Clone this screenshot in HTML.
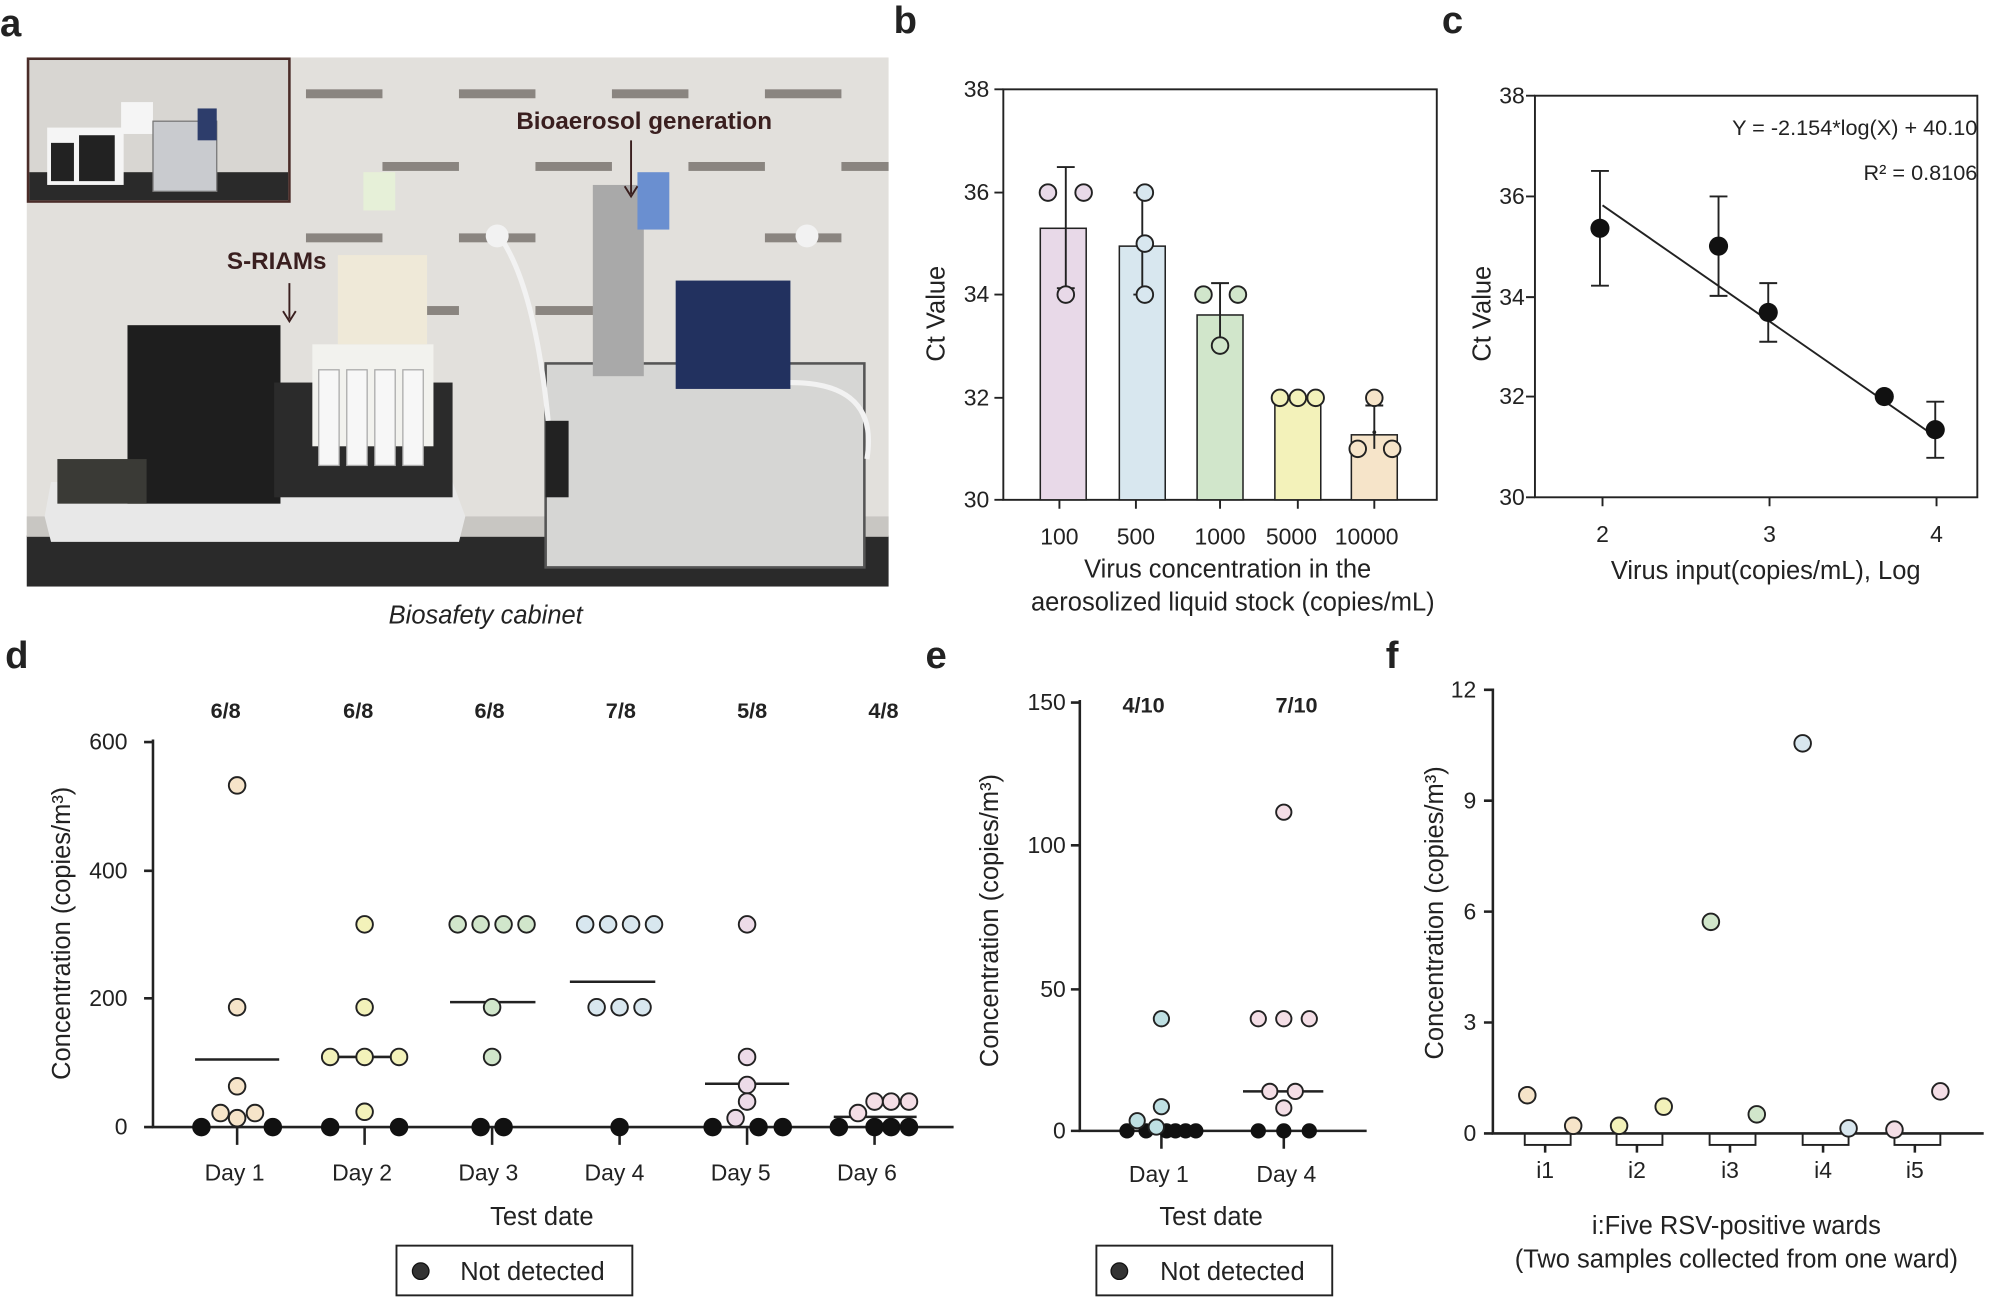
<!DOCTYPE html>
<html><head><meta charset="utf-8"><style>
html,body{margin:0;padding:0;background:#fff}
svg{display:block}
text{font-family:"Liberation Sans",Arial,sans-serif;fill:#222}
</style></head><body>
<svg width="1999" height="1298" viewBox="0 0 1568 1018" xmlns="http://www.w3.org/2000/svg">
<g font-weight="bold" font-size="30">
<text x="0" y="28">a</text><text x="701" y="26">b</text><text x="1131" y="26">c</text>
<text x="4" y="524">d</text><text x="726" y="524">e</text><text x="1087" y="524">f</text>
</g>

<!-- Panel a photo approximation -->
<rect x="21" y="45" width="676" height="415" fill="#e2e0dc"/>
<g fill="#8a8580">
<rect x="240" y="70" width="60" height="7"/><rect x="360" y="70" width="60" height="7"/><rect x="480" y="70" width="60" height="7"/><rect x="600" y="70" width="60" height="7"/>
<rect x="300" y="127" width="60" height="7"/><rect x="420" y="127" width="60" height="7"/><rect x="540" y="127" width="60" height="7"/><rect x="660" y="127" width="37" height="7"/>
<rect x="240" y="183" width="60" height="7"/><rect x="360" y="183" width="60" height="7"/><rect x="600" y="183" width="60" height="7"/>
<rect x="300" y="240" width="60" height="7"/><rect x="420" y="240" width="60" height="7"/><rect x="540" y="240" width="60" height="7"/>
<rect x="100" y="315" width="60" height="7"/><rect x="240" y="315" width="60" height="7"/>
<rect x="130" y="370" width="60" height="7"/>
</g>
<rect x="21" y="420" width="676" height="40" fill="#2a2a2a"/>
<rect x="21" y="405" width="676" height="16" fill="#c8c6c2"/>
<path d="M35 405 L40 378 L355 378 L365 405 L360 425 L40 425 Z" fill="#e8e8e8"/>
<rect x="100" y="255" width="120" height="140" fill="#1e1e1e"/>
<rect x="215" y="300" width="140" height="90" fill="#2b2b2b"/>
<rect x="245" y="270" width="95" height="80" fill="#f2f2ee"/>
<rect x="250" y="290" width="16" height="75" fill="#f7f7f7" stroke="#aaa"/><rect x="272" y="290" width="16" height="75" fill="#f7f7f7" stroke="#aaa"/><rect x="294" y="290" width="16" height="75" fill="#f7f7f7" stroke="#aaa"/><rect x="316" y="290" width="16" height="75" fill="#f7f7f7" stroke="#aaa"/>
<rect x="265" y="200" width="70" height="70" fill="#efe9d8"/>
<rect x="285" y="135" width="25" height="30" fill="#e6f0d8"/>
<rect x="45" y="360" width="70" height="35" fill="#3a3a36"/>
<rect x="428" y="285" width="250" height="160" fill="#d6d6d4" stroke="#555" stroke-width="2"/>
<rect x="428" y="330" width="18" height="60" fill="#222"/>
<rect x="530" y="220" width="90" height="85" fill="#22315f"/>
<rect x="465" y="145" width="40" height="150" fill="#a9a9a9"/>
<rect x="500" y="135" width="25" height="45" fill="#6a8fd0"/>
<path d="M395 190 Q420 230 430 330" stroke="#f2f2f2" stroke-width="4" fill="none"/>
<path d="M620 300 Q690 300 680 360" stroke="#f2f2f2" stroke-width="4" fill="none"/>
<circle cx="390" cy="185" r="9" fill="#f2f2f2"/><circle cx="633" cy="185" r="9" fill="#f2f2f2"/>
<rect x="22" y="46" width="205" height="112" fill="#d8d6d2" stroke="#4a2c28" stroke-width="2"/>
<rect x="23" y="135" width="203" height="22" fill="#2a2a2a"/>
<rect x="37" y="100" width="60" height="45" fill="#f5f5f5"/><rect x="40" y="112" width="18" height="30" fill="#222"/><rect x="62" y="106" width="28" height="36" fill="#222"/>
<rect x="95" y="80" width="25" height="25" fill="#f5f5f5"/>
<rect x="120" y="95" width="50" height="55" fill="#c9cbcf" stroke="#777"/>
<rect x="155" y="85" width="15" height="25" fill="#2d3d6b"/>
<g font-weight="bold" font-size="19">
<text x="405" y="101" style="fill:#3a1f1f">Bioaerosol generation</text>
<text x="178" y="211" style="fill:#3a1f1f">S-RIAMs</text>
</g>
<path d="M495 110 V152 M490 146 L495 154 L500 146" stroke="#3a1f1f" stroke-width="1.5" fill="none"/>
<path d="M227 222 V250 M222 244 L227 252 L232 244" stroke="#3a1f1f" stroke-width="1.5" fill="none"/>
<text x="381" y="489" font-size="20" font-style="italic" text-anchor="middle">Biosafety cabinet</text>

<!-- Panel b -->
<g stroke="#222" stroke-width="1.5" fill="none">
<rect x="787" y="70" width="340" height="322"/>
<path d="M780 70H787M780 151H787M780 231H787M780 312H787M780 392H787"/>
<path d="M831 392v7M891 392v7M957 392v7M1018 392v7M1078 392v7"/>
</g>
<g font-size="18" text-anchor="end"><text x="776" y="76">38</text><text x="776" y="157">36</text><text x="776" y="237">34</text><text x="776" y="318">32</text><text x="776" y="398">30</text></g>
<g font-size="18" text-anchor="middle"><text x="831" y="427">100</text><text x="891" y="427">500</text><text x="957" y="427">1000</text><text x="1013" y="427">5000</text><text x="1072" y="427">10000</text>
<text x="963" y="453" font-size="20">Virus concentration in the</text><text x="967" y="479" font-size="20">aerosolized liquid stock (copies/mL)</text></g>
<text transform="translate(741,246) rotate(-90)" font-size="20" text-anchor="middle">Ct Value</text>
<g stroke="#222" stroke-width="1.2">
<rect x="816" y="179" width="36" height="213" fill="#e8d9e8"/>
<rect x="878" y="193" width="36" height="199" fill="#d8e7ef"/>
<rect x="939" y="247" width="36" height="145" fill="#d1e6cb"/>
<rect x="1000" y="312" width="36" height="80" fill="#f3f2ba"/>
<rect x="1060" y="341" width="36" height="51" fill="#f6e4c9"/>
</g>
<g stroke="#222" stroke-width="1.5" fill="none">
<path d="M836 131V226M829 131H843M829 226H843"/>
<path d="M896 151V231M889 151H903M889 231H903"/>
<path d="M957 222V270M950 222H964M950 270H964"/>
<path d="M1078 318V352M1071 318H1085"/>
</g>
<g stroke="#222" stroke-width="1.5">
<circle cx="822" cy="151" r="6.5" fill="#e8d9e8"/><circle cx="850" cy="151" r="6.5" fill="#e8d9e8"/><circle cx="836" cy="231" r="6.5" fill="#e8d9e8"/>
<circle cx="898" cy="151" r="6.5" fill="#d8e7ef"/><circle cx="898" cy="191" r="6.5" fill="#d8e7ef"/><circle cx="898" cy="231" r="6.5" fill="#d8e7ef"/>
<circle cx="944" cy="231" r="6.5" fill="#d1e6cb"/><circle cx="971" cy="231" r="6.5" fill="#d1e6cb"/><circle cx="957" cy="271" r="6.5" fill="#d1e6cb"/>
<circle cx="1004" cy="312" r="6.5" fill="#f3f2ba"/><circle cx="1018" cy="312" r="6.5" fill="#f3f2ba"/><circle cx="1032" cy="312" r="6.5" fill="#f3f2ba"/>
<circle cx="1078" cy="312" r="6.5" fill="#f6e4c9"/><circle cx="1065" cy="352" r="6.5" fill="#f6e4c9"/><circle cx="1092" cy="352" r="6.5" fill="#f6e4c9"/>
</g>
<circle cx="1078" cy="339" r="1.5" fill="#222"/>

<!-- Panel c -->
<g stroke="#222" stroke-width="1.5" fill="none">
<rect x="1204" y="75" width="347" height="315"/>
<path d="M1197 75H1204M1197 154H1204M1197 233H1204M1197 311H1204M1197 390H1204"/>
<path d="M1257 390v7M1388 390v7M1519 390v7"/>
<path d="M1257 161L1519 343"/>
<path d="M1255 134V224M1248 134H1262M1248 224H1262"/>
<path d="M1348 154V232M1341 154H1355M1341 232H1355"/>
<path d="M1387 222V268M1380 222H1394M1380 268H1394"/>
<path d="M1518 315V359M1511 315H1525M1511 359H1525"/>
</g>
<g fill="#111"><circle cx="1255" cy="179" r="7.5"/><circle cx="1348" cy="193" r="7.5"/><circle cx="1387" cy="245" r="7.5"/><circle cx="1478" cy="311" r="7.5"/><circle cx="1518" cy="337" r="7.5"/></g>
<g font-size="18" text-anchor="end"><text x="1196" y="81">38</text><text x="1196" y="160">36</text><text x="1196" y="239">34</text><text x="1196" y="317">32</text><text x="1196" y="396">30</text>
<text x="1551" y="106" font-size="17">Y = -2.154*log(X) + 40.10</text><text x="1551" y="141" font-size="17">R² = 0.8106</text></g>
<g font-size="18" text-anchor="middle"><text x="1257" y="425">2</text><text x="1388" y="425">3</text><text x="1519" y="425">4</text>
<text x="1385" y="454" font-size="20">Virus input(copies/mL), Log</text></g>
<text transform="translate(1169,246) rotate(-90)" font-size="20" text-anchor="middle">Ct Value</text>

<!-- Panel d -->
<g stroke="#222" stroke-width="2" fill="none">
<path d="M120 580V884H748"/>
<path d="M113 582H120M113 683H120M113 783H120M113 884H120"/>
<path d="M186 884v14M286 884v14M386 884v14M486 884v14M586 884v14M686 884v14"/>
<path d="M153 831H219M252 829H318M353 786H420M447 770H514M553 850H619M654 876H719"/>
</g>
<g font-size="18" text-anchor="end"><text x="100" y="588">600</text><text x="100" y="689">400</text><text x="100" y="789">200</text><text x="100" y="890">0</text></g>
<g font-size="17" text-anchor="middle" font-weight="bold"><text x="177" y="563">6/8</text><text x="281" y="563">6/8</text><text x="384" y="563">6/8</text><text x="487" y="563">7/8</text><text x="590" y="563">5/8</text><text x="693" y="563">4/8</text></g>
<g font-size="18" text-anchor="middle"><text x="184" y="926">Day 1</text><text x="284" y="926">Day 2</text><text x="383" y="926">Day 3</text><text x="482" y="926">Day 4</text><text x="581" y="926">Day 5</text><text x="680" y="926">Day 6</text>
<text x="425" y="961" font-size="20">Test date</text></g>
<text transform="translate(55,732) rotate(-90)" font-size="20" text-anchor="middle">Concentration (copies/m³)</text>
<g stroke="#111" stroke-width="1.5" fill="#111">
<circle cx="158" cy="884" r="6.5"/><circle cx="214" cy="884" r="6.5"/><circle cx="259" cy="884" r="6.5"/><circle cx="313" cy="884" r="6.5"/>
<circle cx="377" cy="884" r="6.5"/><circle cx="395" cy="884" r="6.5"/><circle cx="486" cy="884" r="6.5"/>
<circle cx="559" cy="884" r="6.5"/><circle cx="595" cy="884" r="6.5"/><circle cx="614" cy="884" r="6.5"/>
<circle cx="658" cy="884" r="6.5"/><circle cx="686" cy="884" r="6.5"/><circle cx="699" cy="884" r="6.5"/><circle cx="713" cy="884" r="6.5"/>
</g>
<g stroke="#222" stroke-width="1.5">
<g fill="#f6e4c9"><circle cx="186" cy="616" r="6.5"/><circle cx="186" cy="790" r="6.5"/><circle cx="186" cy="852" r="6.5"/><circle cx="173" cy="873" r="6.5"/><circle cx="200" cy="873" r="6.5"/><circle cx="186" cy="877" r="6.5"/></g>
<g fill="#f3f2ba"><circle cx="286" cy="725" r="6.5"/><circle cx="286" cy="790" r="6.5"/><circle cx="259" cy="829" r="6.5"/><circle cx="286" cy="829" r="6.5"/><circle cx="313" cy="829" r="6.5"/><circle cx="286" cy="872" r="6.5"/></g>
<g fill="#d1e6cb"><circle cx="359" cy="725" r="6.5"/><circle cx="377" cy="725" r="6.5"/><circle cx="395" cy="725" r="6.5"/><circle cx="413" cy="725" r="6.5"/><circle cx="386" cy="790" r="6.5"/><circle cx="386" cy="829" r="6.5"/></g>
<g fill="#d8e7ef"><circle cx="459" cy="725" r="6.5"/><circle cx="477" cy="725" r="6.5"/><circle cx="495" cy="725" r="6.5"/><circle cx="513" cy="725" r="6.5"/><circle cx="468" cy="790" r="6.5"/><circle cx="486" cy="790" r="6.5"/><circle cx="504" cy="790" r="6.5"/></g>
<g fill="#eddbe8"><circle cx="586" cy="725" r="6.5"/><circle cx="586" cy="829" r="6.5"/><circle cx="586" cy="851" r="6.5"/><circle cx="586" cy="864" r="6.5"/><circle cx="577" cy="877" r="6.5"/></g>
<g fill="#f4dee6"><circle cx="673" cy="873" r="6.5"/><circle cx="686" cy="864" r="6.5"/><circle cx="699" cy="864" r="6.5"/><circle cx="713" cy="864" r="6.5"/></g>
</g>
<rect x="311" y="977" width="185" height="39" fill="#fff" stroke="#222" stroke-width="1.5"/>
<circle cx="330" cy="997" r="6.5" fill="#333" stroke="#111"/>
<text x="361" y="1004" font-size="20">Not detected</text>

<!-- Panel e -->
<g stroke="#222" stroke-width="2" fill="none">
<path d="M847 549V887H1072"/>
<path d="M840 551H847M840 663H847M840 776H847M840 887H847"/>
<path d="M911 887v14M1007 887v14"/>
<path d="M975 856H1038"/>
</g>
<g font-size="18" text-anchor="end"><text x="836" y="557">150</text><text x="836" y="669">100</text><text x="836" y="782">50</text><text x="836" y="893">0</text></g>
<g font-size="17" text-anchor="middle" font-weight="bold"><text x="897" y="559">4/10</text><text x="1017" y="559">7/10</text></g>
<g font-size="18" text-anchor="middle"><text x="909" y="927">Day 1</text><text x="1009" y="927">Day 4</text><text x="950" y="961" font-size="20">Test date</text></g>
<text transform="translate(783,722) rotate(-90)" font-size="20" text-anchor="middle">Concentration (copies/m³)</text>
<g fill="#111"><circle cx="884" cy="887" r="6"/><circle cx="899" cy="887" r="6"/><circle cx="915" cy="887" r="6"/><circle cx="922" cy="887" r="6"/><circle cx="930" cy="887" r="6"/><circle cx="938" cy="887" r="6"/><circle cx="987" cy="887" r="6"/><circle cx="1007" cy="887" r="6"/><circle cx="1027" cy="887" r="6"/></g>
<g stroke="#222" stroke-width="1.5">
<g fill="#bfe0e3"><circle cx="911" cy="799" r="6"/><circle cx="911" cy="868" r="6"/><circle cx="892" cy="879" r="6"/><circle cx="907" cy="884" r="6"/></g>
<g fill="#f4dee6"><circle cx="987" cy="799" r="6"/><circle cx="1007" cy="799" r="6"/><circle cx="1027" cy="799" r="6"/><circle cx="996" cy="856" r="6"/><circle cx="1016" cy="856" r="6"/><circle cx="1007" cy="869" r="6"/><circle cx="1007" cy="637" r="6"/></g>
</g>
<rect x="860" y="977" width="185" height="39" fill="#fff" stroke="#222" stroke-width="1.5"/>
<circle cx="878" cy="997" r="6.5" fill="#333" stroke="#111"/>
<text x="910" y="1004" font-size="20">Not detected</text>

<!-- Panel f -->
<g stroke="#222" stroke-width="1.5" fill="#fff">
<rect x="1196" y="889" width="36" height="9"/><rect x="1268" y="889" width="36" height="9"/><rect x="1341" y="889" width="36" height="9"/><rect x="1414" y="889" width="36" height="9"/><rect x="1486" y="889" width="36" height="9"/>
</g>
<g stroke="#222" stroke-width="2" fill="none">
<path d="M1171 540V889H1556"/>
<path d="M1164 541H1171M1164 628H1171M1164 715H1171M1164 802H1171M1164 889H1171"/>
<path d="M1212 898v6M1284 898v6M1357 898v6M1430 898v6M1502 898v6"/>
</g>
<g font-size="18" text-anchor="end"><text x="1158" y="547">12</text><text x="1158" y="634">9</text><text x="1158" y="721">6</text><text x="1158" y="808">3</text><text x="1158" y="895">0</text></g>
<g font-size="18" text-anchor="middle"><text x="1212" y="924">i1</text><text x="1284" y="924">i2</text><text x="1357" y="924">i3</text><text x="1430" y="924">i4</text><text x="1502" y="924">i5</text>
<text x="1362" y="968" font-size="20">i:Five RSV-positive wards</text><text x="1362" y="994" font-size="20">(Two samples collected from one ward)</text></g>
<text transform="translate(1132,716) rotate(-90)" font-size="20" text-anchor="middle">Concentration (copies/m³)</text>
<g stroke="#222" stroke-width="1.5">
<circle cx="1198" cy="859" r="6.5" fill="#f6e4c9"/><circle cx="1234" cy="883" r="6.5" fill="#f6e4c9"/>
<circle cx="1270" cy="883" r="6.5" fill="#f3f2ba"/><circle cx="1305" cy="868" r="6.5" fill="#f3f2ba"/>
<circle cx="1342" cy="723" r="6.5" fill="#d1e6cb"/><circle cx="1378" cy="874" r="6.5" fill="#d1e6cb"/>
<circle cx="1414" cy="583" r="6.5" fill="#d8e7ef"/><circle cx="1450" cy="885" r="6.5" fill="#d8e7ef"/>
<circle cx="1486" cy="886" r="6.5" fill="#f4dee6"/><circle cx="1522" cy="856" r="6.5" fill="#f4dee6"/>
</g>
</svg>
</body></html>
